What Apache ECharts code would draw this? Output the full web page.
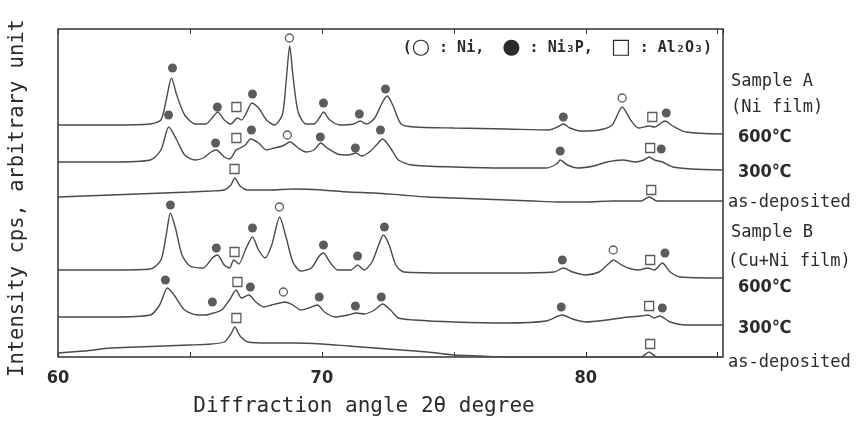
<!DOCTYPE html>
<html lang="en">
<head>
<meta charset="UTF-8">
<title>XRD patterns</title>
<style type="text/css">
  html, body { margin: 0; padding: 0; background: #fff; }
  #a { width: 861px; height: 448px; }
</style>
</head>
<body>
<div id="a"></div>
<script type="text/javascript" src="https://cdn.jsdelivr.net/npm/echarts@6/dist/echarts.min.js"></script>
<script type="text/javascript">
// diffraction angle 2θ (degree) vs intensity (arbitrary, stacked offsets)
var sampleA600 = [[60,232],[62,232],[63.5,233],[63.9,237],[64.1,257],[64.3,279],[64.5,262],[64.8,242],[65.2,233],[65.6,233],[65.9,241],[66.05,245],[66.3,237],[66.55,233],[66.8,239],[66.95,237],[67.1,242],[67.35,254],[67.6,249],[67.9,237],[68.2,232],[68.5,242],[68.65,277],[68.78,311],[68.9,282],[69.1,245],[69.4,233],[69.7,233],[69.95,241],[70.06,245],[70.3,237],[70.7,232],[71.2,233],[71.45,236],[71.7,233],[72.0,239],[72.3,255],[72.48,261],[72.7,251],[73.0,233],[73.5,230],[75,229],[77,228],[78.6,227],[79.0,231],[79.15,233],[79.4,229],[79.8,226],[80.5,227],[81.0,232],[81.38,250],[81.7,237],[82.0,229],[82.4,231],[82.6,230],[83.0,236],[83.3,231],[83.8,225],[85.2,223]];
var sampleA300 = [[60,195],[62,195],[63.5,197],[63.9,207],[64.2,230],[64.5,217],[64.8,202],[65.2,197],[65.5,199],[65.8,205],[66.0,207],[66.3,200],[66.5,198],[66.75,207],[66.9,209],[67.1,212],[67.3,218],[67.6,214],[67.9,207],[68.2,209],[68.5,211],[68.8,215],[69.1,209],[69.4,205],[69.7,207],[69.96,214],[70.2,209],[70.6,203],[71.0,202],[71.3,204],[71.5,201],[71.8,205],[72.1,213],[72.3,218],[72.6,209],[72.9,197],[73.4,192],[75,190],[77,189],[78.5,189],[78.9,193],[79.03,197],[79.3,192],[79.7,189],[80.3,191],[80.8,195],[81.4,197],[81.9,195],[82.2,197],[82.4,200],[82.6,197],[82.9,195],[83.3,190],[84,188],[85.2,187]];
var sampleAdep = [[60,160],[61,161],[62,162],[63,163],[64,164],[65,165],[65.8,166],[66.3,167],[66.55,172],[66.7,179],[66.9,171],[67.2,167],[68,167],[69,168],[70,167],[71,165],[72,164],[73,162],[74,160],[75,159],[76,158],[77,157],[78,156],[79,155],[80,155],[81,156],[82.1,156],[82.4,160],[82.7,156],[83.2,156],[84,156],[85.2,156]];
var sampleB600 = [[60,87],[62,87],[63.5,88],[63.9,97],[64.1,122],[64.26,144],[64.45,129],[64.7,102],[65.0,91],[65.5,89],[65.85,99],[66.04,102],[66.3,92],[66.5,89],[66.66,97],[66.85,93],[67.1,107],[67.37,120],[67.6,107],[67.85,99],[68.1,112],[68.4,140],[68.65,119],[68.9,95],[69.2,86],[69.6,89],[69.9,101],[70.06,104],[70.3,95],[70.6,87],[71.1,87],[71.35,92],[71.6,87],[71.9,95],[72.15,112],[72.33,122],[72.55,112],[72.8,92],[73.1,85],[75,84],[77,84],[78.8,85],[79.15,89],[79.5,85],[80.0,82],[80.5,85],[80.85,93],[81.05,97],[81.3,93],[81.6,89],[82.0,87],[82.35,89],[82.6,87],[82.9,94],[83.2,85],[83.6,80],[85.2,79]];
var sampleB300 = [[60,40],[62,40],[63.5,42],[63.85,52],[64.15,69],[64.4,62],[64.8,47],[65.3,42],[65.6,42],[65.9,44],[66.2,47],[66.5,57],[66.75,67],[66.95,59],[67.23,62],[67.5,55],[67.8,50],[68.1,52],[68.4,54],[68.6,55],[68.9,52],[69.2,47],[69.5,49],[69.83,52],[70.1,45],[70.5,40],[71.0,42],[71.3,44],[71.6,43],[72.0,47],[72.3,53],[72.6,47],[72.9,39],[73.5,37],[75,35],[77,34],[78.5,36],[79.1,42],[79.5,38],[80,35],[80.8,37],[81.6,40],[82.1,41],[82.36,42],[82.6,39],[82.8,41],[83.2,35],[83.8,32],[85.2,32]];
var sampleBdep = [[60,4],[61,6],[62,9],[63,10],[64,11],[65,12],[65.8,13],[66.3,15],[66.55,23],[66.7,30],[66.9,21],[67.2,15],[68,14],[69,14],[70,13],[71,11],[72,9],[73,7],[74,5],[75,2],[76,1],[77,0],[80,0],[82.1,0],[82.4,5],[82.7,0],[85.2,0]];

// phase markers placed above the peaks
var niPeaks = [[68.77,319],[81.38,259],[68.69,222],[68.39,150],[81.04,107],[68.54,65]];
var ni3pPeaks = [[64.34,289],[66.04,250],[67.37,263],[70.06,254],[71.42,243],[72.41,268],[79.15,240],[83.05,244],
  [64.19,242],[65.97,214],[67.33,227],[69.94,220],[71.27,209],[72.22,227],[79.03,206],[82.86,208],
  [64.26,152],[66.0,109],[67.37,129],[70.06,112],[71.35,101],[72.37,130],[79.11,97],[83.0,104],
  [64.07,77],[65.85,55],[67.29,70],[69.9,60],[71.27,51],[72.25,60],[79.07,50],[82.9,49]];
var al2o3Peaks = [[66.76,250],[82.52,240],[66.76,219],[82.44,209],[66.69,188],[82.48,167],
  [66.69,105],[82.44,97],[66.8,75],[82.4,51],[66.76,39],[82.44,13]];

var xTickLabels = ['60', '70', '80'];

var sideLabels = [
  ['Sample A', 731, 82], ['(Ni film)', 731, 108], ['600℃', 738, 137], ['300℃', 738, 172], ['as-deposited', 728, 203],
  ['Sample B', 731, 233], ['(Cu+Ni film)', 728, 262], ['600℃', 738, 287], ['300℃', 738, 328], ['as-deposited', 728, 363]
];

var mono = "'DejaVu Sans Mono', monospace";
var narrow = "'Liberation Sans Narrow', 'DejaVu Sans Condensed', sans-serif";
var ink = '#2b2b2b';

var myChart = echarts.init(document.getElementById('a'));

function trace(d) {
  return {
    type: 'line', data: d, showSymbol: false, smooth: 0.25, silent: true,
    lineStyle: { color: '#4a4a4a', width: 1.4 }
  };
}

var graphics = [
  { type: 'text', x: 18, y: 198, rotation: Math.PI / 2,
    style: { text: 'Intensity cps, arbitrary unit', font: '20.5px ' + mono, fill: ink, textAlign: 'center', textVerticalAlign: 'middle' } },
  { type: 'text', x: 364, y: 407,
    style: { text: 'Diffraction angle 2θ degree', font: '21px ' + mono, fill: ink, textAlign: 'center', textVerticalAlign: 'middle' } },
  { type: 'text', x: 712, y: 48,
    style: {
      text: '({s|○} : Ni,  {s|●} : Ni₃P,  {s|□} : Al₂O₃)',
      font: 'bold 15px ' + mono, fill: ink, textAlign: 'right', textVerticalAlign: 'middle',
      rich: { s: { fontSize: 21, fontFamily: "'DejaVu Sans', sans-serif", fill: ink, fontWeight: 'normal' } }
    } }
];
sideLabels.forEach(function (s) {
  var isTemp = s[0].indexOf('℃') >= 0;
  graphics.push({ type: 'text', x: s[1], y: s[2],
    style: { text: s[0], font: isTemp ? 'bold 18px ' + narrow : '17px ' + mono, fill: ink, textAlign: 'left', textVerticalAlign: 'middle' } });
});

var option = {
  animation: false,
  backgroundColor: '#fff',
  grid: { left: 58, top: 29, right: 138, bottom: 91, show: true, borderColor: '#333', borderWidth: 1.5, backgroundColor: 'transparent' },
  xAxis: [{
    type: 'value', min: 60, max: 85.2, interval: 5,
    axisLine: { show: false },
    axisTick: { inside: true, length: 5, lineStyle: { color: '#333' } },
    splitLine: { show: false },
    axisLabel: {
      margin: 12, showMaxLabel: false, color: ink, fontFamily: narrow, fontWeight: 'bold', fontSize: 18,
      formatter: function (v) { return xTickLabels.indexOf(String(v)) >= 0 ? String(v) : ''; }
    }
  }, {
    type: 'value', position: 'top', min: 60, max: 85.2, interval: 5,
    axisLine: { show: false },
    axisTick: { inside: true, length: 5, lineStyle: { color: '#333' } },
    splitLine: { show: false }, axisLabel: { show: false }
  }],
  yAxis: {
    type: 'value', min: 0, max: 328,
    axisLine: { show: false }, axisTick: { show: false }, axisLabel: { show: false }, splitLine: { show: false }
  },
  series: [
    trace(sampleA600), trace(sampleA300), trace(sampleAdep),
    trace(sampleB600), trace(sampleB300), trace(sampleBdep),
    { type: 'scatter', data: niPeaks, symbol: 'circle', symbolSize: 8, silent: true,
      itemStyle: { color: '#fff', borderColor: '#333', borderWidth: 1.3 } },
    { type: 'scatter', data: ni3pPeaks, symbol: 'circle', symbolSize: 9, silent: true,
      itemStyle: { color: '#333' } },
    { type: 'scatter', data: al2o3Peaks, symbol: 'rect', symbolSize: 9, silent: true,
      itemStyle: { color: '#fff', borderColor: '#333', borderWidth: 1.3 } }
  ],
  graphic: graphics
};
myChart.setOption(option);
</script>
</body>
</html>
